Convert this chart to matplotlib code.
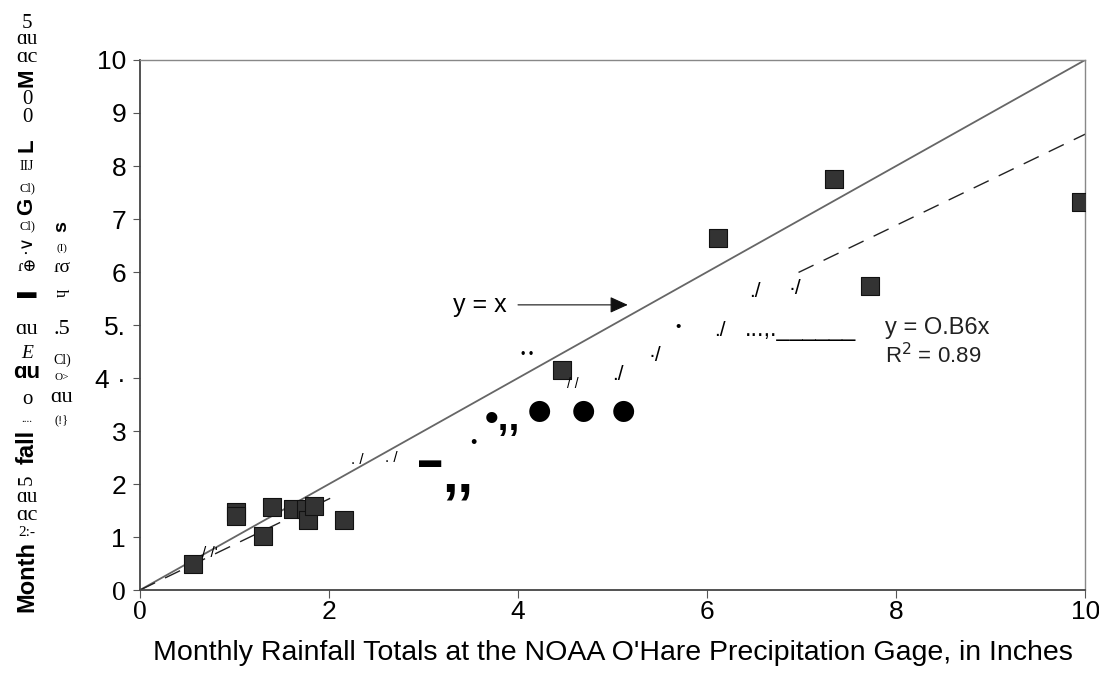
import matplotlib
matplotlib.use("Agg")
import matplotlib.pyplot as plt
import numpy as np

plt.rcParams['font.family'] = ['Liberation Sans', 'DejaVu Sans']

# O'Hare gage (x) vs. radar estimate (y), monthly totals in inches
gage = [0.56, 1.02, 1.02, 1.30, 1.40, 1.62, 1.76, 1.78, 1.84, 2.16, 4.46, 6.12, 7.34, 7.72, 9.96]
radar = [0.50, 1.47, 1.40, 1.01, 1.57, 1.53, 1.52, 1.32, 1.58, 1.32, 4.16, 6.64, 7.76, 5.74, 7.32]
slope = 0.86
r2 = 0.89

xticks = [0, 2, 4, 6, 8, 10]
yticks = list(range(0, 11))
ytick_labels = ['0', '1', '2', '3', '4 ·', '5.', '6', '7', '8', '9', '10']

fig = plt.figure(figsize=(10.99, 6.88), dpi=100)
ax = fig.add_axes([0.1274, 0.1424, 0.8600, 0.7704])

# 1:1 line and fitted line y = 0.86x (middle of the fit line is lost in the scan)
xx = np.linspace(0, 10, 400)
ax.plot(xx, xx, color='#666666', lw=1.3, zorder=2)
fit = np.ma.masked_where((xx > 2.1) & (xx < 6.95), slope * xx)
ax.plot(xx, fit, color='#222222', lw=1.0, dashes=(12, 8), zorder=2)

ax.scatter(gage, radar, marker='s', s=170, color='#333333', edgecolor='#111111',
           linewidth=0.8, zorder=3)

ax.set_xlim(0, 10)
ax.set_ylim(0, 10)
ax.set_xticks(xticks)
ax.set_yticks(yticks)
ax.set_xticklabels([str(t) for t in xticks], fontsize=19)
ax.set_yticklabels(ytick_labels, fontsize=19)
for lab in (ax.get_xticklabels()[0], ax.get_yticklabels()[0]):
    lab.set_family('Liberation Serif')
    lab.set_fontsize(20)
ax.tick_params(axis='x', direction='out', length=6, pad=1, color='#555555')
ax.tick_params(axis='y', direction='out', length=5, pad=5, color='#555555')
for side in ['top', 'right']:
    ax.spines[side].set_color('#888888')
    ax.spines[side].set_linewidth(1.0)
for side in ['left', 'bottom']:
    ax.spines[side].set_color('#444444')
    ax.spines[side].set_linewidth(1.3)

ax.set_xlabel("Monthly Rainfall Totals at the NOAA O'Hare Precipitation Gage, in Inches",
              fontsize=20.5, labelpad=11)

# annotations
ax.annotate('', xy=(5.19, 5.38), xytext=(3.97, 5.38),
            arrowprops=dict(arrowstyle='-|>,head_length=1.1,head_width=0.5',
                            color='#111111', lw=0.8))
ax.text(3.31, 5.38, 'y = x', fontsize=18, va='center', ha='left')
ax.text(7.88, 4.95, 'y = O.B6x', fontsize=17, va='center', ha='left', color='#222222')
ax.text(7.88, 4.42, 'R$^2$ = 0.89', fontsize=16, va='center', ha='left', color='#222222')

# scan artefacts left along the damaged part of the fit line
ax.text(6.51, 5.64, './', fontsize=15, ha='center', va='center')
ax.text(6.93, 5.68, '·/', fontsize=15, ha='center', va='center')
ax.text(5.69, 4.96, '•', fontsize=11, ha='center', va='center')
ax.text(6.14, 4.90, './', fontsize=15, ha='center', va='center')
ax.text(6.40, 4.90, '...,.______', fontsize=17, ha='left', va='center')
ax.text(4.10, 4.43, '• •', fontsize=9, ha='center', va='center')
ax.text(4.58, 3.88, '/ /', fontsize=10, ha='center', va='center')
ax.text(5.06, 4.06, './', fontsize=15, ha='center', va='center')
ax.text(5.45, 4.43, '·/', fontsize=15, ha='center', va='center')
ax.text(3.83, 3.20, '•,,', fontsize=28, ha='center', va='center', fontweight='bold')
ax.text(4.23, 3.34, '●', fontsize=35, ha='center', va='center')
ax.text(4.69, 3.34, '●', fontsize=35, ha='center', va='center')
ax.text(5.11, 3.34, '●', fontsize=35, ha='center', va='center')
ax.text(3.53, 2.76, '•', fontsize=13, ha='center', va='center')
ax.text(3.07, 2.42, '▬', fontsize=16, ha='center', va='center')
ax.text(3.36, 2.12, ',,', fontsize=40, ha='center', va='center', fontweight='bold')
ax.text(2.30, 2.45, '. /', fontsize=11, ha='center', va='center')
ax.text(2.66, 2.50, '. /', fontsize=11, ha='center', va='center')
ax.text(0.74, 0.70, '/ /\'', fontsize=11, ha='center', va='center')

# garbled y-axis label from the scan (figure pixels from the top, 688 high)
serif = ['Liberation Serif', 'DejaVu Serif']
col1 = [('5', 23, 0, 15, 'normal'), ('ɑu', 40, 0, 15, 'normal'), ('ɑc', 57, 0, 16, 'normal'),
        ('M', 78, 90, 16, 'bold'), ('0', 100, 0, 15, 'normal'), ('0', 118, 0, 15, 'normal'),
        ('L', 145, 90, 16, 'bold'), ('IIJ', 167, 0, 10, 'normal'), ('Cl)', 188, 0, 9, 'normal'),
        ('G', 206, 90, 16, 'bold'), ('Cl)', 226, 0, 9, 'normal'), ('·∨', 244, 90, 13, 'normal'),
        ('ɾ⊕', 267, 0, 12, 'normal'), ('▬', 293, 0, 14, 'bold'), ('ɑu', 330, 0, 16, 'normal'),
        ('E', 354, 0, 14, 'normal'), ('ɑu', 373, 0, 16, 'bold'), ('o', 400, 0, 15, 'normal'),
        ('....', 420, 0, 8, 'normal'), ('ɑu', 498, 0, 15, 'normal'), ('ɑc', 515, 0, 16, 'normal'),
        ('2:-', 532, 0, 11, 'normal')]
for g, y, rot, fs, fw in col1:
    fig.text(27 / 1099, 1 - y / 688, g, fontsize=fs, ha='center', va='center',
             rotation=rot, family=['Liberation Sans'] if fw == 'bold' else serif,
             fontweight=fw, style='italic' if g == 'E' else 'normal')
fig.text(27 / 1099, 1 - 447 / 688, 'fall', rotation=90, fontsize=17, fontweight='bold',
         ha='center', va='center')
fig.text(27 / 1099, 1 - 480 / 688, '5', rotation=90, fontsize=15, ha='center', va='center',
         family=serif)
fig.text(27 / 1099, 1 - 576 / 688, 'Month', rotation=90, fontsize=17, fontweight='bold',
         ha='center', va='center')

col2 = [('s', 227, 90, 14, 'bold'), ('(I)', 248, 0, 8, 'normal'), ('ɾσ', 267, 0, 14, 'normal'),
        ('ɥ', 293, 90, 12, 'normal'), ('.5', 330, 0, 16, 'normal'), ('Cl)', 360, 0, 10, 'normal'),
        ('O>', 377, 0, 8, 'normal'), ('ɑu', 398, 0, 16, 'normal'), ('(!}', 420, 0, 9, 'normal')]
for g, y, rot, fs, fw in col2:
    fig.text(62 / 1099, 1 - y / 688, g, fontsize=fs, ha='center', va='center',
             rotation=rot, family=['Liberation Sans'] if fw == 'bold' else serif,
             fontweight=fw)

fig.savefig('out.png', dpi=100)
